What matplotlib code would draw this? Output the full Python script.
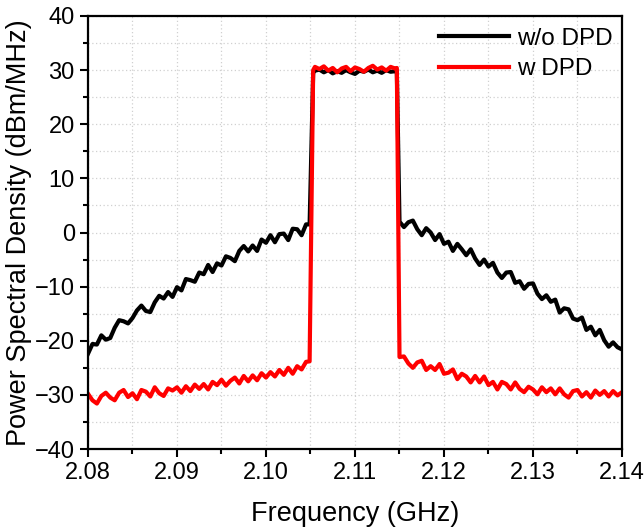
import numpy as np
import matplotlib
matplotlib.use("Agg")
import matplotlib.pyplot as plt
from matplotlib.ticker import MultipleLocator, FormatStrFormatter

plt.rcParams["font.family"] = ["Liberation Sans", "DejaVu Sans"]

# Frequency sample grid (MHz): lower skirt, lower edge, passband, upper edge, upper skirt
FREQ_LOWER = np.arange(2080.0, 2104.75, 0.5)
FREQ_EDGE_LO = [2104.9, 2105.3]
FREQ_BAND = np.arange(2105.5, 2114.75, 0.5)
FREQ_EDGE_HI = [2114.7, 2115.0]
FREQ_UPPER = np.arange(2115.5, 2140.25, 0.5)

# w/o DPD (dBm/MHz)
WO_LOWER = [-22.4, -20.6, -20.7, -19.0, -19.8, -19.5, -17.6, -16.2, -16.4, -16.8,
            -15.8, -14.4, -13.5, -14.5, -14.7, -12.9, -11.7, -12.2, -11.0, -11.9,
            -10.1, -10.7, -8.6, -8.8, -9.1, -7.4, -7.7, -6.0, -7.3, -5.7,
            -6.1, -4.4, -4.7, -5.3, -3.4, -2.5, -3.5, -2.4, -3.4, -1.3,
            -1.9, -0.5, -1.8, -0.3, -0.2, -1.4, 0.7, 0.6, -0.5, 1.5]
WO_EDGE_LO = [1.5, 29.5]
WO_BAND = [29.9, 30.1, 29.6, 30.0, 29.4, 29.8, 29.5, 30.0, 29.6, 29.3,
           29.9, 29.7, 30.1, 29.6, 29.9, 29.5, 30.0, 29.7, 29.8]
WO_EDGE_HI = [29.9, 2.0]
WO_UPPER = [1.0, 1.9, 2.2, 0.6, -0.5, 0.8, 0.0, -1.4, -0.3, -2.1,
            -1.7, -3.4, -2.1, -3.1, -4.2, -3.1, -4.8, -6.0, -5.0, -6.3,
            -5.6, -7.4, -8.4, -7.4, -7.3, -9.3, -9.0, -10.4, -9.5, -9.4,
            -11.3, -12.3, -11.6, -12.8, -12.4, -14.8, -14.0, -14.2, -15.9, -16.2,
            -15.7, -18.0, -17.4, -19.0, -18.0, -19.9, -21.1, -20.3, -21.2, -21.6]

# w DPD (dBm/MHz)
W_LOWER = [-29.8, -31.0, -31.6, -30.2, -29.6, -30.5, -31.0, -29.6, -29.1, -30.4,
           -29.7, -30.8, -29.1, -29.4, -30.3, -28.6, -29.7, -30.2, -28.8, -29.2,
           -28.6, -29.6, -28.4, -29.3, -28.1, -28.9, -28.0, -29.0, -27.6, -28.2,
           -27.2, -28.3, -27.4, -26.8, -27.9, -26.5, -27.5, -26.4, -27.3, -26.0,
           -26.8, -25.8, -26.6, -25.4, -26.3, -25.0, -26.1, -24.7, -25.3, -23.9]
W_EDGE_LO = [-23.8, 30.0]
W_BAND = [30.6, 30.2, 30.7, 29.9, 30.4, 29.6, 30.3, 30.6, 29.8, 30.5,
          30.2, 29.7, 30.4, 30.8, 30.1, 30.5, 29.9, 30.6, 30.3]
W_EDGE_HI = [30.4, -23.0]
W_UPPER = [-22.9, -24.2, -25.0, -24.0, -23.7, -25.4, -24.7, -25.4, -24.3, -26.1,
           -25.9, -25.3, -27.1, -26.1, -26.6, -27.7, -26.5, -27.7, -26.6, -28.2,
           -27.6, -29.0, -27.6, -28.0, -29.0, -27.7, -28.9, -29.5, -28.5, -29.0,
           -29.9, -28.6, -29.5, -28.8, -29.9, -28.8, -29.9, -30.5, -29.3, -29.1,
           -30.3, -29.5, -30.5, -29.2, -30.0, -29.3, -30.3, -29.3, -30.1, -29.5]

freq = np.concatenate([FREQ_LOWER, FREQ_EDGE_LO, FREQ_BAND, FREQ_EDGE_HI, FREQ_UPPER]) / 1000.0
psd_wo = np.concatenate([WO_LOWER, WO_EDGE_LO, WO_BAND, WO_EDGE_HI, WO_UPPER])
psd_w = np.concatenate([W_LOWER, W_EDGE_LO, W_BAND, W_EDGE_HI, W_UPPER])

fig = plt.figure(figsize=(6.44, 5.31), dpi=100)
ax = fig.add_axes([88 / 644, 1 - 449 / 531, (622 - 88) / 644, (449 - 16) / 531])

ax.plot(freq, psd_wo, color="black", lw=3, label="w/o DPD")
ax.plot(freq, psd_w, color="red", lw=3, label="w DPD")

ax.set_xlim(2.08, 2.14)
ax.set_ylim(-40, 40)
ax.xaxis.set_major_locator(MultipleLocator(0.01))
ax.xaxis.set_minor_locator(MultipleLocator(0.005))
ax.xaxis.set_major_formatter(FormatStrFormatter("%.2f"))
ax.yaxis.set_major_locator(MultipleLocator(10))
ax.yaxis.set_minor_locator(MultipleLocator(5))

ax.grid(True, which="both", color="#d0d0d0", linestyle=(0, (1, 2)), linewidth=0.9)
ax.set_axisbelow(True)

ax.tick_params(which="major", direction="out", length=6, width=1.5, labelsize=17,
               top=False, right=False)
ax.tick_params(which="minor", direction="out", length=3.5, width=1.5,
               top=False, right=False)
for sp in ax.spines.values():
    sp.set_linewidth(1.6)

ax.set_xlabel("Frequency (GHz)", fontsize=19.5, labelpad=12)
ax.set_ylabel("Power Spectral Density (dBm/MHz)", fontsize=19.5, labelpad=2)

ax.legend(loc="upper right", frameon=False, fontsize=17.5, handlelength=2.9,
          handletextpad=0.3, borderaxespad=0.0, labelspacing=0.35,
          bbox_to_anchor=(1.0, 0.995))

fig.savefig("out.png", dpi=100)
